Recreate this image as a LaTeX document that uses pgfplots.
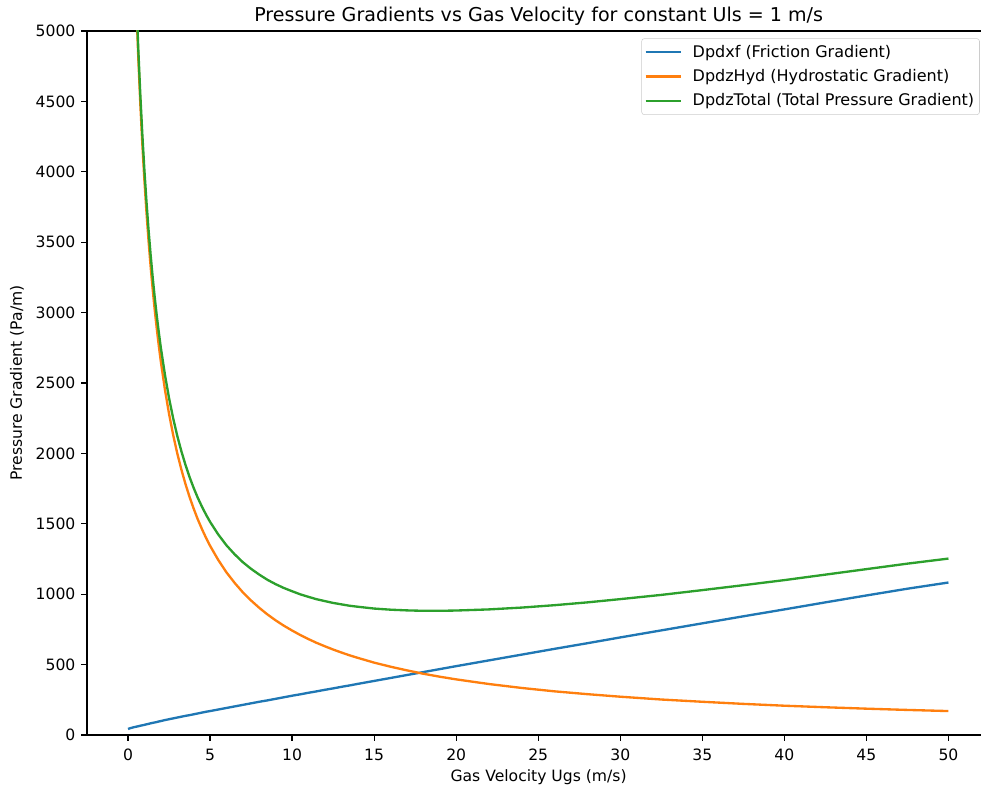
\documentclass[border=0pt]{standalone}
\usepackage{fontspec}
\setmainfont{DejaVu Sans}
\usepackage{pgfplots}
\usepackage{pgfplotstable}
\pgfplotsset{compat=1.18}
\definecolor{mplblue}{HTML}{1F77B4}
\definecolor{mplorange}{HTML}{FF7F0E}
\definecolor{mplgreen}{HTML}{2CA02C}

% Ugs, friction, hydrostatic, total (Pa/m)
\pgfplotstableread{
ugs    fric  hyd   tot
0      43    7657  7700
0.125  48    6848  6896
0.25   52    6193  6245
0.375  56    5653  5709
0.5    59    5199  5258
0.625  62    4813  4875
0.75   66    4481  4547
0.875  69    4191  4260
1      72    3937  4009
1.125  76    3712  3788
1.25   79    3511  3590
1.375  83    3331  3414
1.5    86    3169  3255
1.625  89    3022  3111
1.75   92    2888  2980
1.875  96    2765  2861
2      99    2652  2751
2.25   106   2453  2559
2.5    112   2281  2393
2.75   118   2132  2250
3      124   2001  2125
3.25   130   1886  2016
3.5    136   1783  1919
3.75   141   1691  1832
4      147   1608  1755
4.25   153   1532  1685
4.5    159   1464  1623
4.75   165   1401  1566
5      170   1344  1514
5.5    181   1243  1424
6      192   1155  1347
6.5    203   1080  1283
7      214   1013  1227
7.5    225   955   1180
8      236   903   1139
8.5    246   856   1102
9      257   814   1071
9.5    268   776   1044
10     279   742   1021
10.5   289   710   999
11     300   681   981
11.5   310   654   964
12     321   630   951
12.5   331   607   938
13     342   586   928
13.5   352   566   918
14     363   548   911
15     384   514   898
16     405   485   890
17     426   459   885
18     447   435   882
19     468   414   882
20     489   395   884
22     530   362   892
24     571   334   905
26     612   310   922
28     652   290   942
30     693   272   965
32.5   743   252   995
35     793   236   1029
37.5   843   221   1064
40     892   208   1100
42.5   942   197   1139
45     991   187   1178
47.5   1039  178   1217
50     1083  170   1253
}\grad

\begin{document}
\begin{tikzpicture}
\begin{axis}[
  name=ax, at={(0,0)}, anchor=south west,
  scale only axis, width=670.7pt, height=528pt,
  xmin=-2.5, xmax=52, ymin=0, ymax=5000,
  axis x line*=box, axis y line*=left,
  xtick pos=bottom, ytick pos=left,
  xtick={0,5,...,50}, ytick={0,500,...,5000},
  tick align=outside, major tick length=4.2pt,
  every tick/.style={black, line width=0.95pt},
  axis line style={black, line width=0.95pt},
  /pgf/number format/assume math mode=true,
  /pgf/number format/1000 sep={},
  tick label style={font=\fontsize{11.7}{14}\selectfont, inner sep=0pt},
  xticklabel style={anchor=north, yshift=-5.9pt},
  yticklabel style={anchor=east, xshift=-4.3pt},
  title={Pressure Gradients vs Gas Velocity for constant Uls = 1 m/s},
  every axis title/.style={at={(axis description cs:0.505,1)}, anchor=base, yshift=7pt,
    font=\fontsize{14.3}{17}\selectfont, inner sep=0pt},
  xlabel={Gas Velocity Ugs (m/s)},
  ylabel={Pressure Gradient (Pa/m)},
  every axis x label/.style={at={(axis description cs:0.505,0)}, anchor=base, yshift=-34.5pt,
    font=\fontsize{11.7}{14}\selectfont, inner sep=0pt},
  every axis y label/.style={at={(axis description cs:-0.0783,0.5)}, anchor=center, rotate=90,
    font=\fontsize{11.7}{14}\selectfont, inner sep=0pt},
  legend style={at={(axis description cs:0.9983,0.9896)}, anchor=north east,
    draw=black!20, rounded corners=2pt, fill=white, fill opacity=0.8, text opacity=1,
    draw opacity=1,
    font=\fontsize{12}{14}\selectfont, inner xsep=2pt, inner ysep=3pt,
    row sep=3.6pt},
  legend cell align=left,
  legend image code/.code={\draw[#1, line width=1.75pt] (0pt,0pt) -- (26.25pt,0pt);
    \path (32.5pt,0pt);},
  clip=true,
]
\addplot[mplblue, line width=1.75pt] table[x=ugs, y=fric] {\grad};
\addlegendentry{Dpdxf (Friction Gradient)}
\addplot[mplorange, line width=1.75pt] table[x=ugs, y=hyd] {\grad};
\addlegendentry{DpdzHyd (Hydrostatic Gradient)}
\addplot[mplgreen, line width=1.75pt] table[x=ugs, y=tot] {\grad};
\addlegendentry{DpdzTotal (Total Pressure Gradient)}
\end{axis}
\pgfresetboundingbox
\path (-65.25pt,-39.75pt) rectangle (670.5pt,551.25pt);
\end{tikzpicture}
\end{document}
